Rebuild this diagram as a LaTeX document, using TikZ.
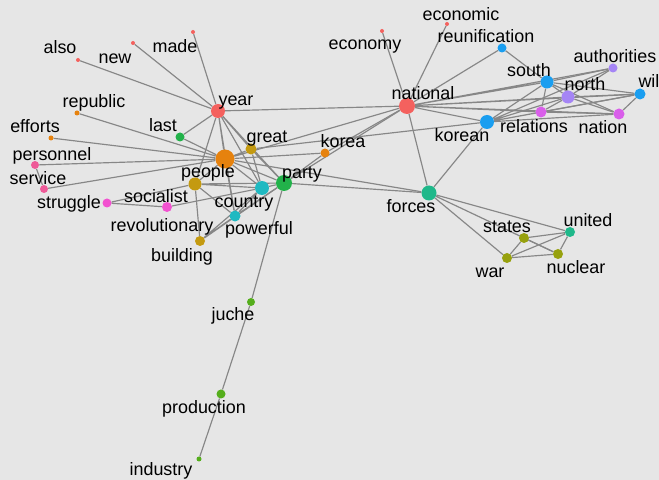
\documentclass[tikz,border=0pt]{standalone}
\usepackage{fontspec}
\setmainfont{Liberation Sans}
\usepackage{xcolor}
\usetikzlibrary{backgrounds}
\definecolor{panel}{HTML}{E6E6E6}
\definecolor{edgegray}{HTML}{878787}
\definecolor{cred}{HTML}{F4615E}
\definecolor{corange}{HTML}{E6820E}
\definecolor{colive}{HTML}{C49A10}
\definecolor{cgreen}{HTML}{22B24A}
\definecolor{cteal}{HTML}{1FB9C1}
\definecolor{csea}{HTML}{1FB88A}
\definecolor{cyg}{HTML}{97A10E}
\definecolor{clime}{HTML}{55AE1C}
\definecolor{cblue}{HTML}{1A9EF0}
\definecolor{cpurple}{HTML}{A585F5}
\definecolor{cmag}{HTML}{D95EEA}
\definecolor{cpink}{HTML}{F252D0}
\definecolor{crose}{HTML}{EE5A98}

\begin{document}
\begin{tikzpicture}
      [x=0.03cm,y=-0.03cm,
       dot/.style 2 args={circle,inner sep=0pt,fill=#1,minimum size=#2*0.6mm},
       word/.style={anchor=base,inner sep=0pt,text=black,font=\fontsize{15.3}{18}\selectfont},
       edge/.style={draw=edgegray,line width=1pt}]
        \useasboundingbox (0,0) rectangle (659,480);
        % left cluster
        \node (also) at (78,60) [dot={cred}{2}] {};
        \node (new) at (133,43) [dot={cred}{2}] {};
        \node (made) at (193,32) [dot={cred}{2}] {};
        \node (year) at (218,111) [dot={cred}{7}] {};
        \node (republic) at (77,113) [dot={corange}{2.5}] {};
        \node (efforts) at (51,138) [dot={corange}{2.5}] {};
        \node (last) at (180,137) [dot={cgreen}{4.5}] {};
        \node (great) at (251,149) [dot={colive}{5.5}] {};
        \node (korea) at (325,153) [dot={corange}{4.5}] {};
        \node (people) at (225,159) [dot={corange}{9.5}] {};
        \node (personnel) at (35,165) [dot={crose}{4}] {};
        \node (service) at (44,189) [dot={crose}{4}] {};
        \node (struggle) at (107,203) [dot={cpink}{4.5}] {};
        \node (socialist) at (167,207) [dot={cpink}{5}] {};
        \node (revolutionary) at (195,184) [dot={colive}{6.5}] {};
        \node (country) at (262,188) [dot={cteal}{7}] {};
        \node (party) at (284,183) [dot={cgreen}{8}] {};
        \node (powerful) at (235,216) [dot={cteal}{5.5}] {};
        \node (building) at (200,241) [dot={colive}{5}] {};
        \node (juche) at (251,302) [dot={clime}{4}] {};
        \node (production) at (221,394) [dot={clime}{4.5}] {};
        \node (industry) at (199,459) [dot={clime}{2.5}] {};
        % right cluster
        \node (economy) at (382,31) [dot={cred}{2}] {};
        \node (economic) at (447,24) [dot={cred}{2}] {};
        \node (national) at (407,106) [dot={cred}{8}] {};
        \node (reunification) at (502,48) [dot={cblue}{4.5}] {};
        \node (south) at (547,82) [dot={cblue}{6.5}] {};
        \node (authorities) at (613,68) [dot={cpurple}{4.5}] {};
        \node (north) at (568,97) [dot={cpurple}{6.5}] {};
        \node (wil) at (640,94) [dot={cblue}{5.5}] {};
        \node (relations) at (541,112) [dot={cmag}{5.5}] {};
        \node (nation) at (619,114) [dot={cmag}{5.5}] {};
        \node (korean) at (487,122) [dot={cblue}{7}] {};
        \node (forces) at (429,193) [dot={csea}{7.5}] {};
        \node (states) at (524,238) [dot={cyg}{5}] {};
        \node (united) at (570,232) [dot={csea}{5}] {};
        \node (war) at (507,258) [dot={cyg}{5}] {};
        \node (nuclear) at (558,254) [dot={cyg}{5}] {};
        % words
        \node (alsoL) at (60,54) [word] {also};
        \node (newL) at (115,64) [word] {new};
        \node (madeL) at (175,53) [word] {made};
        \node (yearL) at (236,106) [word] {year};
        \node (republicL) at (94,108) [word] {republic};
        \node (effortsL) at (35,133) [word] {efforts};
        \node (lastL) at (163,132) [word] {last};
        \node (greatL) at (267,143) [word] {great};
        \node (koreaL) at (343,148) [word] {korea};
        \node (peopleL) at (208,178) [word] {people};
        \node (personnelL) at (52,161) [word] {personnel};
        \node (serviceL) at (38,185) [word] {service};
        \node (struggleL) at (69,209) [word] {struggle};
        \node (socialistL) at (156,203) [word] {socialist};
        \node (revolutionaryL) at (162,232) [word] {revolutionary};
        \node (countryL) at (244,208) [word] {country};
        \node (partyL) at (302,179) [word] {party};
        \node (powerfulL) at (259,235) [word] {powerful};
        \node (buildingL) at (182,262) [word] {building};
        \node (jucheL) at (233,321) [word] {juche};
        \node (productionL) at (204,414) [word] {production};
        \node (industryL) at (161,475) [word] {industry};
        \node (economyL) at (365,50) [word] {economy};
        \node (economicL) at (461,21) [word] {economic};
        \node (reunificationL) at (486,43) [word] {reunification};
        \node (nationalL) at (423,100) [word] {national};
        \node (southL) at (529,77) [word] {south};
        \node (northL) at (585,91) [word] {north};
        \node (authoritiesL) at (615,63) [word] {authorities};
        \node (wilL) at (649,88) [word] {wil};
        \node (relationsL) at (534,133) [word] {relations};
        \node (nationL) at (603,134) [word] {nation};
        \node (koreanL) at (462,142) [word] {korean};
        \node (forcesL) at (411,213) [word] {forces};
        \node (statesL) at (507,233) [word] {states};
        \node (unitedL) at (588,227) [word] {united};
        \node (warL) at (490,278) [word] {war};
        \node (nuclearL) at (576,274) [word] {nuclear};
        \begin{scope}[on background layer]
        \fill[panel] (0,0) rectangle (659,480);
        \draw[edge] (year) -- (also) (year) -- (new) (year) -- (made) (year) -- (last)
          (year) -- (people) (year) -- (great) (year) -- (party) (year) -- (country)
          (year) -- (revolutionary) (year) -- (national) (year) -- (powerful);
        \draw[edge] (people) -- (republic) (people) -- (efforts) (people) -- (personnel)
          (people) -- (service) (people) -- (last) (people) -- (great) (people) -- (korea)
          (people) -- (party) (people) -- (country) (people) -- (revolutionary)
          (people) -- (powerful) (people) -- (forces) (people) -- (national);
        \draw[edge] (personnel) -- (service);
        \draw[edge] (struggle) -- (socialist) (struggle) -- (revolutionary);
        \draw[edge] (socialist) -- (country);
        \draw[edge] (revolutionary) -- (party) (revolutionary) -- (country)
          (revolutionary) -- (building) (revolutionary) -- (powerful);
        \draw[edge] (building) -- (powerful) (building) -- (country) (building) -- (party);
        \draw[edge] (powerful) -- (country) (powerful) -- (party);
        \draw[edge] (country) -- (party) (country) -- (great);
        \draw[edge] (great) -- (party) (great) -- (korean);
        \draw[edge] (party) -- (korea) (party) -- (national) (party) -- (forces) (party) -- (juche);
        \draw[edge] (korea) -- (national);
        \draw[edge] (juche) -- (production) (production) -- (industry);
        \draw[edge] (forces) -- (national) (forces) -- (korean) (forces) -- (states)
          (forces) -- (united) (forces) -- (war) (forces) -- (nuclear);
        \draw[edge] (states) -- (united) (states) -- (war) (states) -- (nuclear)
          (war) -- (united) (war) -- (nuclear) (nuclear) -- (united);
        \draw[edge] (national) -- (economy) (national) -- (economic) (national) -- (reunification)
          (national) -- (south) (national) -- (north) (national) -- (authorities)
          (national) -- (wil) (national) -- (relations) (national) -- (nation) (national) -- (korean);
        \draw[edge] (korean) -- (south) (korean) -- (north) (korean) -- (relations)
          (korean) -- (nation) (korean) -- (wil) (korean) -- (authorities);
        \draw[edge] (reunification) -- (south);
        \draw[edge] (south) -- (north) (south) -- (relations) (south) -- (nation)
          (south) -- (authorities) (south) -- (wil);
        \draw[edge] (north) -- (relations) (north) -- (nation) (north) -- (wil) (north) -- (authorities);
        \draw[edge] (relations) -- (nation) (relations) -- (wil) (nation) -- (wil);
        \end{scope}
\end{tikzpicture}
\end{document}
